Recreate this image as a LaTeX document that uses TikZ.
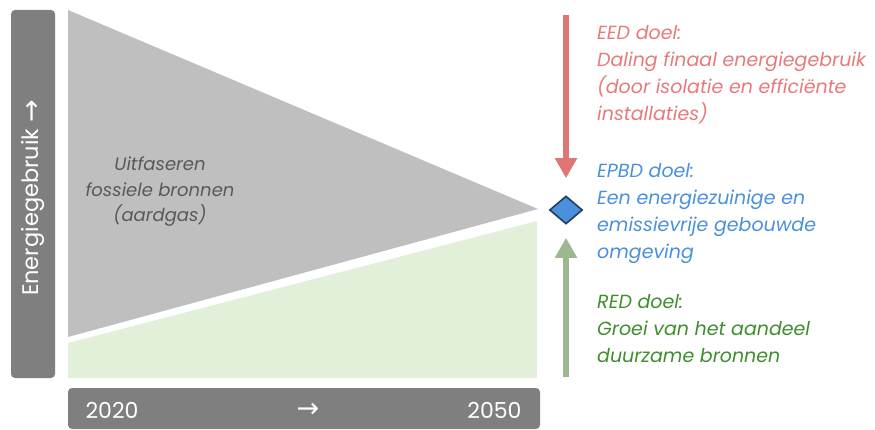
\documentclass[tikz,border=0pt]{standalone}
\usepackage{fontspec}
\setmainfont{Poppins}
\newfontfamily\arrowfont{DejaVu Sans}
\newcommand\pijl{{\arrowfont\fontsize{27}{27}\selectfont\raisebox{-1.5pt}{→}}}
\usetikzlibrary{positioning, arrows.meta, shapes}
\definecolor{barGray}{HTML}{7F7F7F}
\definecolor{fossGray}{HTML}{BFBFBF}
\definecolor{textGray}{HTML}{595959}
\definecolor{duurGreen}{HTML}{E2F0D9}
\definecolor{eedRed}{HTML}{E07575}
\definecolor{eedText}{HTML}{E8797B}
\definecolor{epbdBlue}{HTML}{4A90DC}
\definecolor{epbdLine}{HTML}{1F3F60}
\definecolor{redArrow}{HTML}{9DB891}
\definecolor{redText}{HTML}{3E8E2C}

\begin{document}
\begin{tikzpicture}[x=1pt, y=-1pt,
  bar/.style={fill=barGray, rounded corners=4pt},
  goal/.style={anchor=north west, inner sep=0pt, align=left, font=\fontsize{19}{27}\selectfont\itshape},
  bigarrow/.style={line width=6pt, -{Triangle[width=21pt,length=20pt]}}]
  \useasboundingbox (0,0) rectangle (875,430);
  % axes
  \fill[bar] (11,10) rectangle (55,378);
  \node[rotate=90, text=white, font=\fontsize{22.5}{26}\selectfont] (yas) at (33,198) {Energiegebruik \pijl};
  \fill[bar] (68,388) rectangle (540,429);
  \node[anchor=west, text=white, font=\fontsize{22}{26}\selectfont] (start) at (82,410) {2020};
  \node[text=white, font=\fontsize{22}{26}\selectfont] (tijd) at (308,410) {\pijl};
  \node[anchor=east, text=white, font=\fontsize{22}{26}\selectfont] (eind) at (525,410) {2050};
  % areas
  \fill[fossGray] (68,10) -- (538,209) -- (68,337) -- cycle;
  \fill[duurGreen] (68,343) -- (537,221) -- (537,378) -- (68,378) -- cycle;
  \node[align=center, text=textGray, font=\fontsize{18}{25.5}\selectfont\itshape] (fossiel) at (160,192) {Uitfaseren\\fossiele bronnen\\(aardgas)};
  % goals
  \node[diamond, fill=epbdBlue, draw=epbdLine, line width=1.6pt, minimum width=33pt, minimum height=28pt, inner sep=0pt] (doel) at (566,210) {};
  \coordinate (eedtop) at (566,15);
  \coordinate (redbot) at (566,377);
  \draw[bigarrow, eedRed, shorten >=17pt] (eedtop) -- (doel.north);
  \draw[bigarrow, redArrow, shorten >=13pt] (redbot) -- (doel.south);
  \node[goal, text=eedText] (eed) at (597,25) {EED doel:\\Daling finaal energiegebruik\\(door isolatie en efficiënte\\installaties)};
  \node[goal, text=epbdBlue] (epbd) at (597,163) {EPBD doel:\\Een energiezuinige en\\emissievrije gebouwde\\omgeving};
  \node[goal, text=redText] (red) at (597,294) {RED doel:\\Groei van het aandeel\\duurzame bronnen};
\end{tikzpicture}
\end{document}
